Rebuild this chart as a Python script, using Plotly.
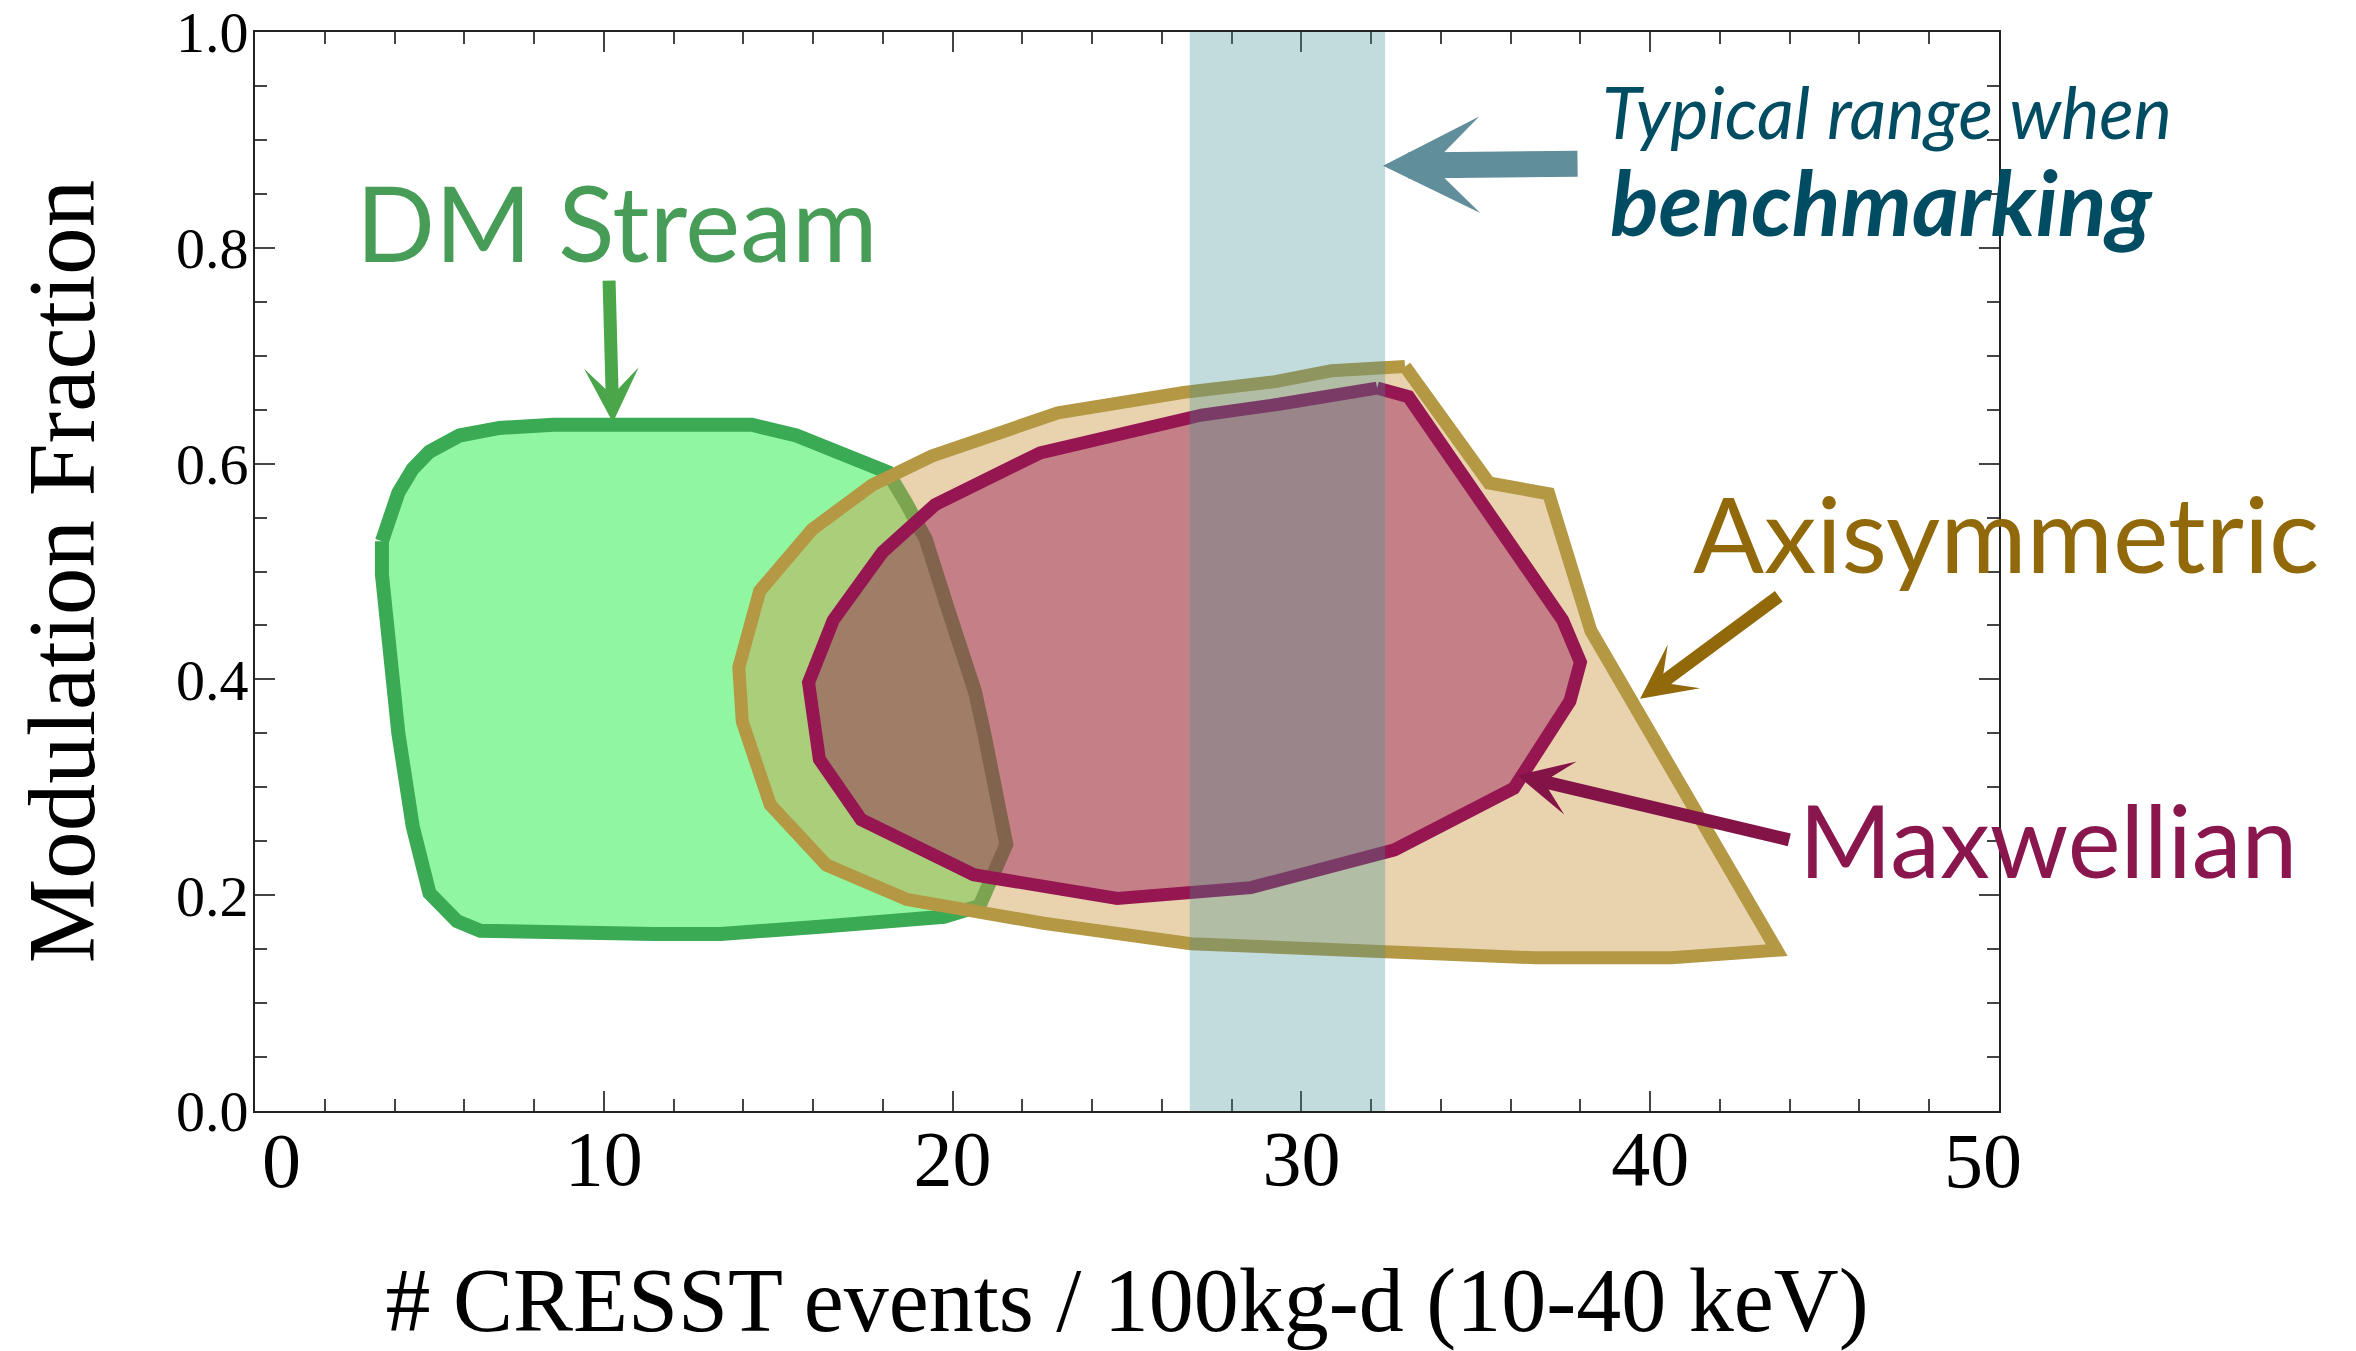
import plotly.graph_objects as go

# ---- data -------------------------------------------------------------
# DM Stream region (events, modulation fraction)
stream_x = [3.64, 4.11, 4.52, 5.00, 5.86, 7.01, 8.55, 14.24, 15.52, 18.14, 18.66, 19.23,
            19.87, 20.64, 20.90, 21.41, 21.54, 20.77, 19.75, 16.29, 13.35, 11.43, 6.46,
            5.79, 5.00, 4.52, 4.11, 3.64]
stream_y = [0.528, 0.573, 0.595, 0.611, 0.626, 0.633, 0.636, 0.636, 0.626, 0.592, 0.564, 0.530,
            0.465, 0.389, 0.351, 0.279, 0.247, 0.190, 0.180, 0.171, 0.164, 0.164, 0.167,
            0.176, 0.202, 0.264, 0.350, 0.497]

# Axisymmetric halo region
axisym_x = [32.97, 35.38, 37.09, 38.30, 43.63, 40.61, 36.69, 26.83, 22.61, 18.69, 16.38,
            14.77, 13.97, 13.87, 14.47, 15.97, 17.69, 19.40, 23.02, 26.63, 29.25, 30.86]
axisym_y = [0.690, 0.582, 0.572, 0.445, 0.149, 0.142, 0.142, 0.155, 0.174, 0.196, 0.228,
            0.284, 0.361, 0.411, 0.482, 0.539, 0.580, 0.607, 0.647, 0.666, 0.676, 0.686]

# Maxwellian halo region
maxw_x = [32.17, 33.07, 37.49, 38.00, 37.70, 36.09, 32.67, 28.55, 24.72, 20.60, 17.38,
          16.18, 15.87, 16.58, 17.99, 19.50, 22.51, 25.03, 27.14, 29.35]
maxw_y = [0.670, 0.662, 0.455, 0.416, 0.380, 0.299, 0.242, 0.207, 0.197, 0.219, 0.270,
          0.326, 0.397, 0.455, 0.518, 0.562, 0.610, 0.628, 0.645, 0.655]

# typical benchmarking range of event counts
bench_range = [26.8, 32.4]

x_tick_vals = [0, 10, 20, 30, 40, 50]
x_tick_text = ["0", "10", "20", "30", "40", "50"]
y_tick_vals = [0.0, 0.2, 0.4, 0.6, 0.8, 1.0]
y_tick_text = ["0.0", "0.2", "0.4", "0.6", "0.8", "1.0"]


def closed(seq):
    return list(seq) + [seq[0]]


fig = go.Figure()

fig.add_trace(go.Scatter(
    x=closed(stream_x), y=closed(stream_y), mode="lines", fill="toself",
    fillcolor="rgb(145,246,161)",
    line=dict(color="rgb(58,170,85)", width=14),
    name="DM Stream", showlegend=False, hoverinfo="skip"))

fig.add_trace(go.Scatter(
    x=closed(axisym_x), y=closed(axisym_y), mode="lines", fill="toself",
    fillcolor="rgba(204,158,76,0.45)",
    line=dict(color="rgb(180,152,68)", width=13),
    name="Axisymmetric", showlegend=False, hoverinfo="skip"))

fig.add_trace(go.Scatter(
    x=closed(maxw_x), y=closed(maxw_y), mode="lines", fill="toself",
    fillcolor="rgba(142,6,74,0.4)",
    line=dict(color="rgb(150,22,82)", width=13),
    name="Maxwellian", showlegend=False, hoverinfo="skip"))

# shaded benchmarking band
fig.add_shape(type="rect", xref="x", yref="y",
              x0=bench_range[0], x1=bench_range[1], y0=0, y1=1,
              fillcolor="rgba(64,142,149,0.32)", line=dict(width=0), layer="above")

label_font = "Lato, 'Open Sans', sans-serif"
serif = "'Liberation Serif', 'Times New Roman', serif"

# the end labels of the x axis sit a little inside the frame, clear of the y labels
x_label_text = list(x_tick_text)
x_end_labels = [(0, x_label_text[0], 26), (len(x_tick_vals) - 1, x_label_text[-1], -16)]
for idx, _, _ in x_end_labels:
    x_label_text[idx] = ""

annotations = [
    # labels
    dict(text="DM Stream", x=2.85, y=0.8245, xanchor="left", yanchor="middle",
         font=dict(family=label_font, size=104, color="rgb(71,157,87)")),
    dict(text="Axisymmetric", x=41.17, y=0.537, xanchor="left", yanchor="middle",
         font=dict(family=label_font, size=105, color="rgb(145,105,10)")),
    dict(text="Maxwellian", x=44.2, y=0.2525, xanchor="left", yanchor="middle",
         font=dict(family=label_font, size=100, color="rgb(138,22,78)")),
    dict(text="<i>Typical range when</i>", x=38.56, y=0.927, xanchor="left", yanchor="middle",
         font=dict(family=label_font, size=72, color="rgb(0,76,98)")),
    dict(text="<b><i>benchmarking</i></b>", x=38.8, y=0.843, xanchor="left", yanchor="middle",
         font=dict(family=label_font, size=90, color="rgb(0,76,98)")),
    # arrows
    dict(text="", x=10.26, y=0.638, ax=10.15, ay=0.771, axref="x", ayref="y",
         showarrow=True, arrowhead=3, arrowwidth=13, arrowsize=0.7,
         arrowcolor="rgb(74,166,72)"),
    dict(text="", x=39.71, y=0.382, ax=43.73, ay=0.478, axref="x", ayref="y",
         showarrow=True, arrowhead=3, arrowwidth=13, arrowsize=0.7,
         arrowcolor="rgb(145,105,10)"),
    dict(text="", x=36.19, y=0.311, ax=44.03, ay=0.251, axref="x", ayref="y",
         showarrow=True, arrowhead=3, arrowwidth=13, arrowsize=0.7,
         arrowcolor="rgb(132,20,72)"),
    dict(text="", x=32.34, y=0.876, ax=37.96, ay=0.878, axref="x", ayref="y",
         showarrow=True, arrowhead=3, arrowwidth=26, arrowsize=0.62,
         arrowcolor="rgb(96,142,155)"),
]
for a in annotations:
    a.setdefault("showarrow", False)
    a["xref"] = "x"
    a["yref"] = "y"

for idx, txt, shift in x_end_labels:
    annotations.append(dict(
        text=txt, x=x_tick_vals[idx], y=0, xref="x", yref="paper",
        xanchor="center", yanchor="top", xshift=shift, yshift=-4, showarrow=False,
        font=dict(family=serif, size=78, color="black")))

fig.update_layout(annotations=annotations)

axis_common = dict(
    showline=True, linecolor="#222", linewidth=2, mirror="ticks",
    ticks="inside", ticklen=20, tickwidth=1.5, tickcolor="#444",
    showgrid=False, zeroline=False, automargin=False,
)

fig.update_xaxes(
    range=[0, 50], tickvals=x_tick_vals, ticktext=x_label_text,
    tickfont=dict(family=serif, size=78, color="black"),
    ticklabelstandoff=-22,
    minor=dict(dtick=2, ticks="inside", ticklen=12, tickwidth=1.5, tickcolor="#444"),
    title=dict(text="# CRESST events / 100kg-d (10-40 keV)",
               font=dict(family=serif, size=90, color="black"), standoff=70),
    **axis_common)

fig.update_yaxes(
    range=[0, 1], tickvals=y_tick_vals, ticktext=y_tick_text,
    tickfont=dict(family=serif, size=58, color="black"),
    ticklabelstandoff=-7,
    minor=dict(dtick=0.05, ticks="inside", ticklen=12, tickwidth=1.5, tickcolor="#444"),
    title=dict(text="Modulation Fraction",
               font=dict(family=serif, size=95, color="black"), standoff=50),
    **axis_common)

fig.update_layout(
    width=2356, height=1351, autosize=False,
    margin=dict(l=255, r=357, t=32, b=240),
    paper_bgcolor="white", plot_bgcolor="white",
    showlegend=False,
)

fig.write_html("out.html")
